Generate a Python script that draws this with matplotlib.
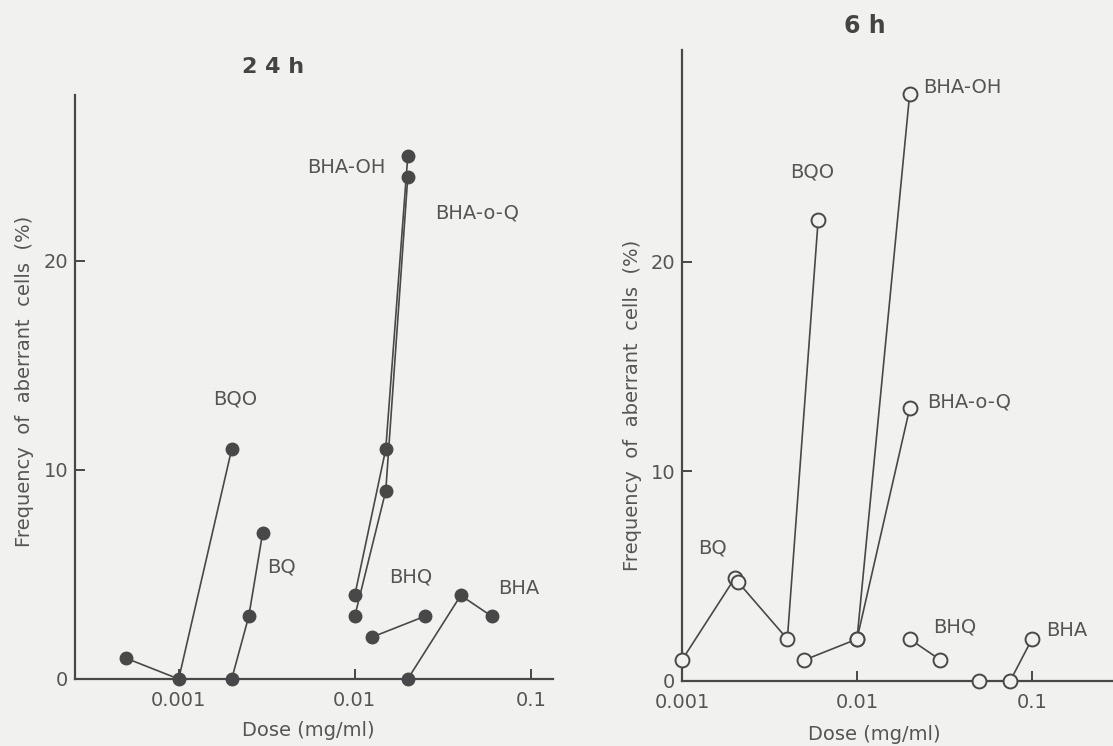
import numpy as np
import matplotlib
matplotlib.use("Agg")
import matplotlib.pyplot as plt

# 24 h (filled symbols)
bqo_24_x = [0.0005, 0.001, 0.002]
bqo_24_y = [1, 0, 11]
bq_24_x = [0.002, 0.0025, 0.003]
bq_24_y = [0, 3, 7]
bhaoh_24_x = [0.01, 0.015, 0.02]
bhaoh_24_y = [4, 11, 25]
bhaoq_24_x = [0.01, 0.015, 0.02]
bhaoq_24_y = [3, 9, 24]
bhq_24_x = [0.0125, 0.025]
bhq_24_y = [2, 3]
bha_24_x = [0.02, 0.04, 0.06]
bha_24_y = [0, 4, 3]

# 6 h (open symbols)
bq_6_x = [0.001, 0.002]
bq_6_y = [1, 4.9]
bqo_6_x = [0.0021, 0.004, 0.006]
bqo_6_y = [4.7, 2, 22]
bhaoh_6_x = [0.005, 0.01, 0.02]
bhaoh_6_y = [1, 2, 28]
bhaoq_6_x = [0.01, 0.02]
bhaoq_6_y = [2, 13]
bhq_6_x = [0.02, 0.03]
bhq_6_y = [2, 1]
bha_6_x = [0.05, 0.075, 0.1]
bha_6_y = [0, 0, 2]

x_ticks = [0.001, 0.01, 0.1]
x_ticklabels = ["0.001", "0.01", "0.1"]
y_ticks = [0, 10, 20]

BG = "#f1f1ef"
INK = "#484848"
TXT = "#555555"

plt.rcParams["font.family"] = ["DejaVu Sans"]

fig = plt.figure(figsize=(11.13, 7.46), dpi=100, facecolor=BG)
W, H = 1113, 746


def make_axes(x0, x1, ytop, ybot):
    return fig.add_axes([x0 / W, 1 - ybot / H, (x1 - x0) / W, (ybot - ytop) / H])


def style(ax, xlim, ylim):
    ax.set_facecolor(BG)
    ax.set_xscale("log")
    ax.set_xlim(*xlim)
    ax.set_ylim(*ylim)
    for s in ["top", "right"]:
        ax.spines[s].set_visible(False)
    for s in ["left", "bottom"]:
        ax.spines[s].set_color(INK)
        ax.spines[s].set_linewidth(1.6)
    ax.set_xticks(x_ticks)
    ax.set_xticklabels(x_ticklabels)
    ax.xaxis.set_minor_locator(matplotlib.ticker.NullLocator())
    ax.set_yticks(y_ticks)
    ax.tick_params(direction="in", length=7, width=1.4, color=INK,
                   labelcolor=TXT, labelsize=14)
    ax.tick_params(axis="x", pad=9)
    ax.tick_params(axis="y", pad=5)


def series(ax, xs, ys, filled):
    if filled:
        ax.plot(xs, ys, "-o", color=INK, lw=1.2, ms=9, mfc=INK, mec=INK,
                clip_on=False, zorder=3)
    else:
        ax.plot(xs, ys, "-o", color=INK, lw=1.2, ms=10, mfc=BG, mec=INK,
                mew=1.4, clip_on=False, zorder=3)


# ---- left panel: 24 h ----
ax1 = make_axes(75, 553, 95, 679)
style(ax1, (10 ** -3.589, 10 ** -0.874), (0, 27.94))
for xs, ys in [(bqo_24_x, bqo_24_y), (bq_24_x, bq_24_y), (bhaoh_24_x, bhaoh_24_y),
               (bhaoq_24_x, bhaoq_24_y), (bhq_24_x, bhq_24_y), (bha_24_x, bha_24_y)]:
    series(ax1, xs, ys, True)

lab = dict(color=TXT, fontsize=14, ha="center", va="center")
ax1.text(0.00209, 13.4, "BQO", **lab)
ax1.text(0.0090, 24.45, "BHA-OH", **lab)
ax1.text(0.0498, 22.3, "BHA-o-Q", **lab)
ax1.text(0.00383, 5.36, "BQ", **lab)
ax1.text(0.0209, 4.88, "BHQ", **lab)
ax1.text(0.0853, 4.35, "BHA", **lab)

fig.text(273 / W, 1 - 67 / H, "2 4 h", color="#444444", fontsize=16,
         fontweight="bold", ha="center", va="center")
fig.text(25 / W, 1 - 381 / H, "Frequency  of  aberrant  cells  (%)", color=TXT,
         fontsize=14, rotation=90, ha="center", va="center")
fig.text(308 / W, 1 - 730 / H, "Dose (mg/ml)", color=TXT, fontsize=14,
         ha="center", va="center")

# ---- right panel: 6 h ----
ax2 = make_axes(682, 1113, 50, 681)
style(ax2, (0.001, 10 ** -0.537), (0, 30.1))
for xs, ys in [(bq_6_x, bq_6_y), (bqo_6_x, bqo_6_y), (bhaoh_6_x, bhaoh_6_y),
               (bhaoq_6_x, bhaoq_6_y), (bhq_6_x, bhq_6_y), (bha_6_x, bha_6_y)]:
    series(ax2, xs, ys, False)

ax2.text(0.0398, 28.3, "BHA-OH", **lab)
ax2.text(0.00553, 24.3, "BQO", **lab)
ax2.text(0.0437, 13.3, "BHA-o-Q", **lab)
ax2.text(0.0015, 6.35, "BQ", **lab)
ax2.text(0.0363, 2.58, "BHQ", **lab)
ax2.text(0.158, 2.43, "BHA", **lab)

fig.text(865 / W, 1 - 26 / H, "6 h", color="#444444", fontsize=17,
         fontweight="bold", ha="center", va="center")
fig.text(632 / W, 1 - 405 / H, "Frequency  of  aberrant  cells  (%)", color=TXT,
         fontsize=14, rotation=90, ha="center", va="center")
fig.text(874 / W, 1 - 735 / H, "Dose (mg/ml)", color=TXT, fontsize=14,
         ha="center", va="center")

fig.savefig("out.png", dpi=100, facecolor=BG)
